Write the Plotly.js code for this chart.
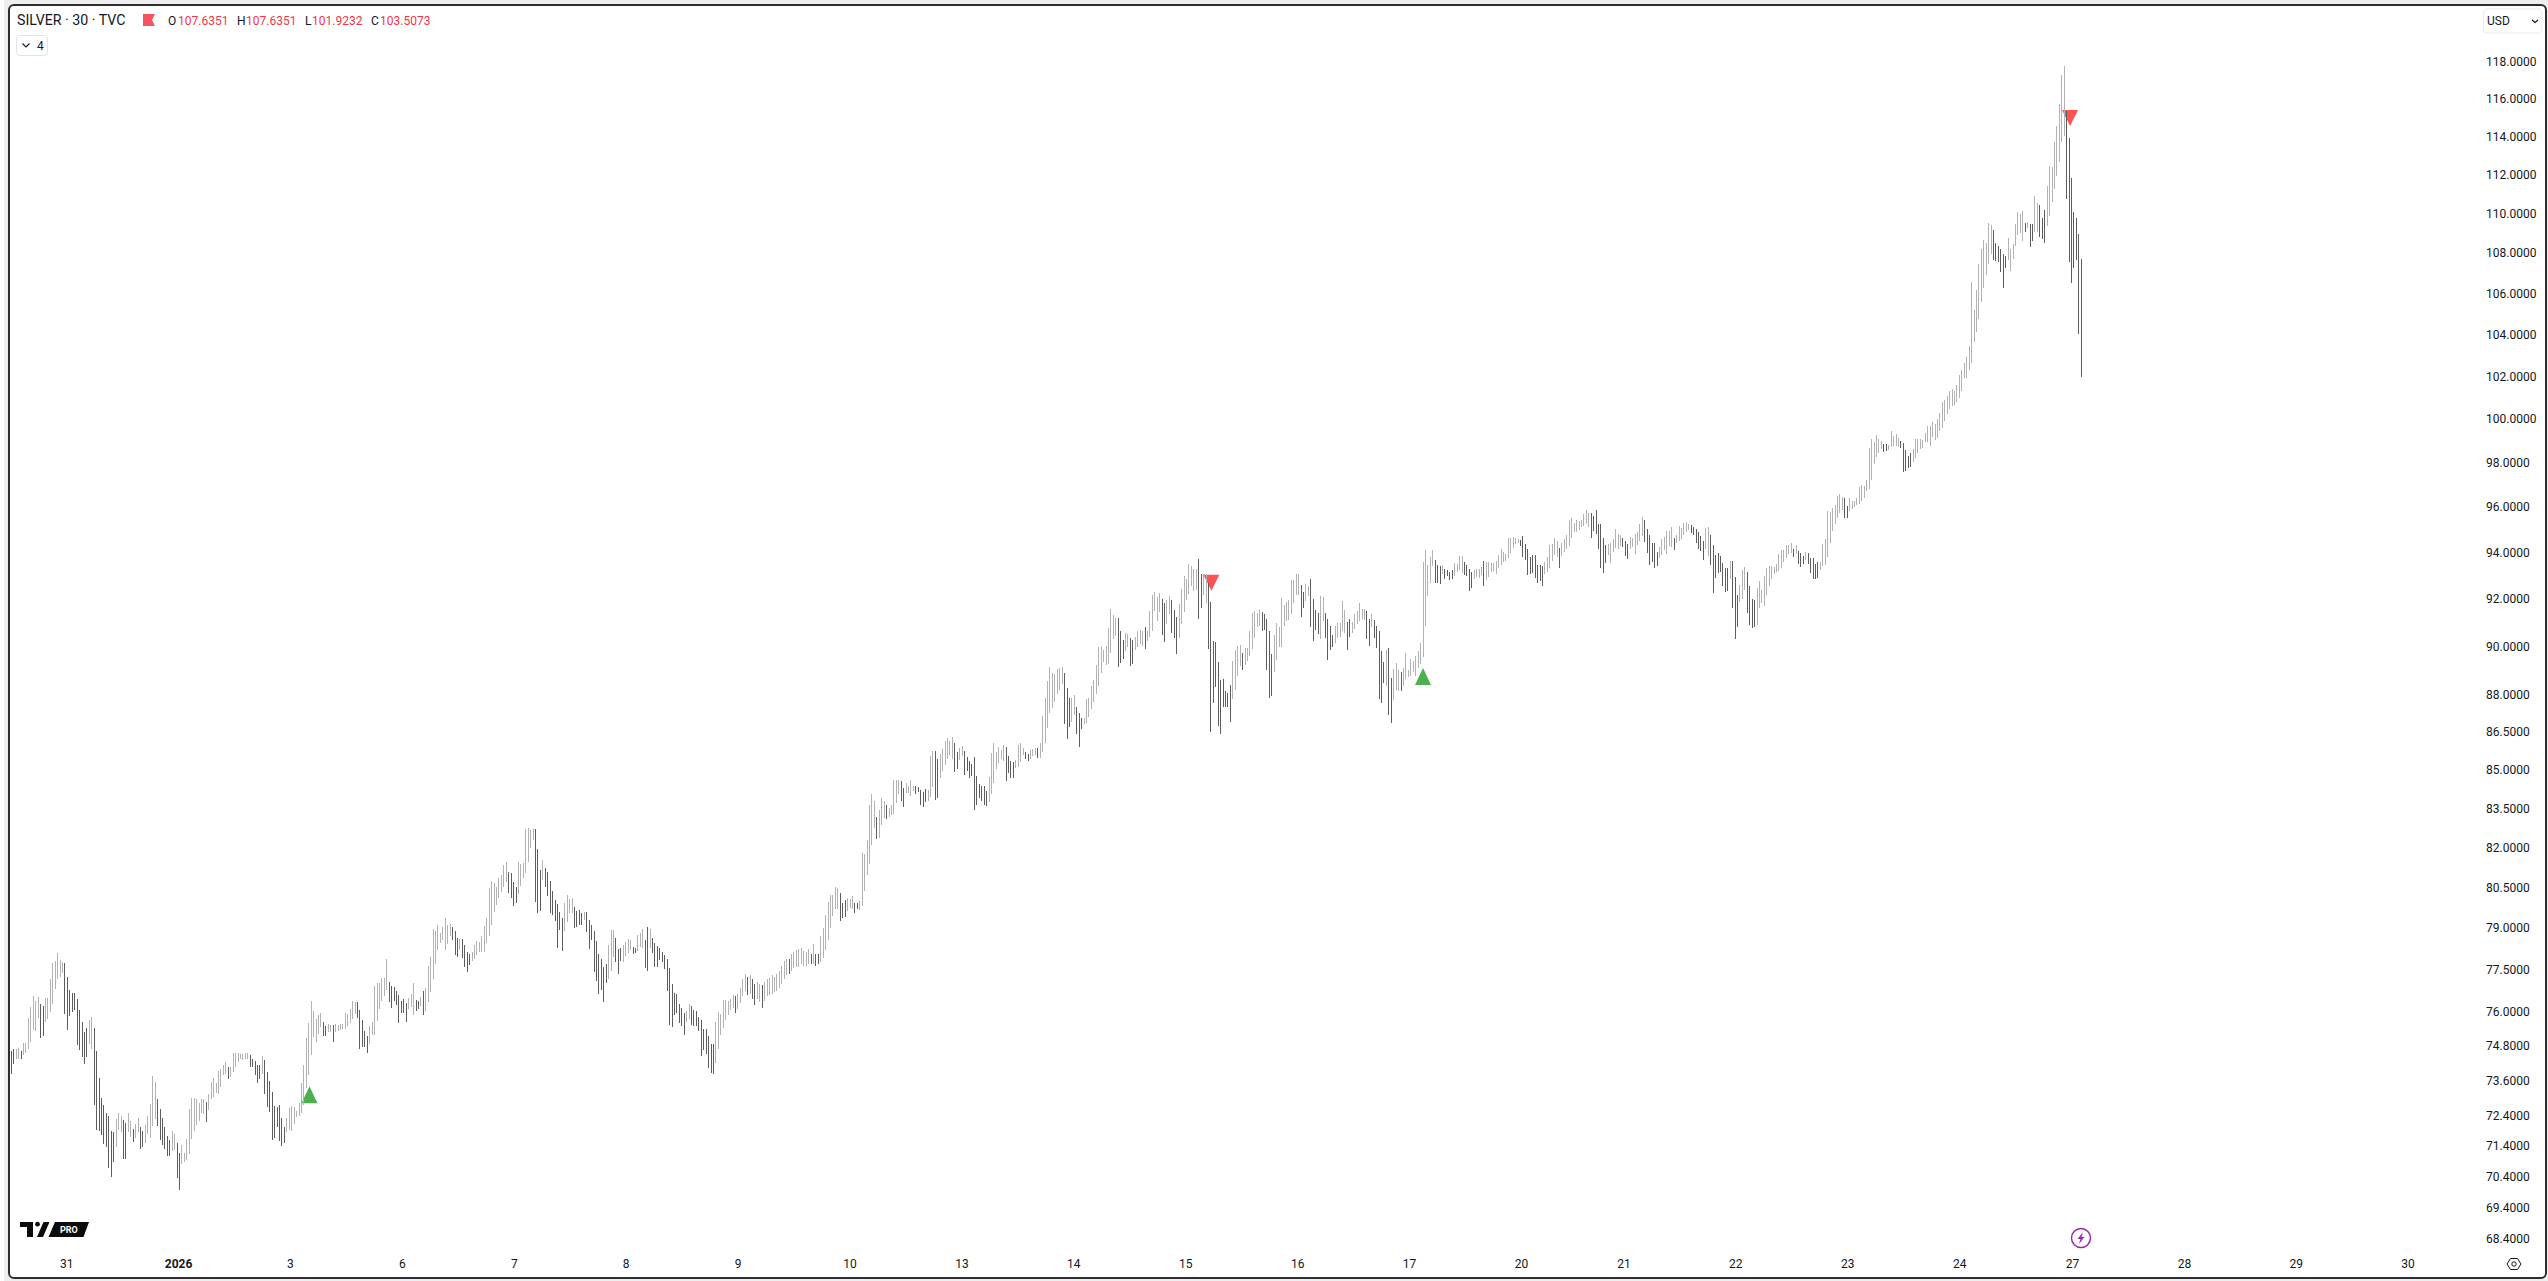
<!DOCTYPE html>
<html><head><meta charset="utf-8">
<script src="https://cdn.plot.ly/plotly-3.0.1.min.js"></script>
<style>
html,body{margin:0;padding:0;width:2548px;height:1281px;overflow:hidden;background:#fff}
#strip{position:absolute;left:4px;top:0;width:2544px;height:1281px;background:#eeeeee}
#frame{position:absolute;left:8px;top:4px;width:2535px;height:1271px;border:2.5px solid #2e2e32;border-radius:6px;background:#fff}
#chart{position:absolute;left:0;top:0;width:2548px;height:1281px}
.ohlc path{shape-rendering:crispEdges !important}
</style></head><body>
<div id="strip"></div><div id="frame"></div><div id="chart"></div>
<script>
const U=1,D=0;
// each row: high, low, rising(1)/falling(0)
const barsA=[[74.60,73.81,D],[74.65,74.15,D],[74.65,74.30,U],[74.69,74.32,U],[74.59,74.32,D],[74.86,74.45,U],[74.86,74.52,U],[75.74,74.65,U],[76.13,74.89,U],[76.52,75.31,U],[76.34,75.28,U],[76.48,75.74,U],[76.23,75.03,D],[76.16,75.10,D],[76.45,75.60,U],[76.45,75.70,U],[77.12,75.95,U],[77.69,76.23,U],[77.76,76.77,U],[78.04,77.12,U],[77.79,77.19,U],[77.72,77.33,U],[77.69,75.88,D],[77.19,75.31,D],[76.73,75.81,D],[76.62,75.95,D],[76.62,76.02,D],[76.41,74.79,D],[76.02,74.62,D],[75.60,74.38,D],[75.24,74.15,D],[75.38,74.38,D],[75.67,74.82,U],[75.77,74.65,U],[75.38,72.76,D],[74.59,71.91,D],[73.67,71.87,D],[72.99,71.74,D],[72.76,71.43,D],[72.49,71.33,D],[72.38,70.65,D],[71.87,70.35,D],[71.84,70.86,D],[72.28,71.33,U],[72.49,71.91,U],[72.38,71.84,U],[72.25,70.96,D],[72.15,70.96,D],[72.49,71.84,U],[72.21,71.67,U],[71.94,71.50,D],[72.11,71.64,U],[72.32,71.84,U],[72.01,71.26,D],[71.87,71.33,D],[72.08,71.46,U],[72.38,71.77,U],[72.79,71.64,U],[73.74,72.04,U],[73.54,72.28,U],[72.93,72.04,D],[72.62,71.57,D],[72.32,71.40,D],[72.01,71.26,D],[71.71,71.06,D],[71.57,71.03,D],[71.87,71.20,U],[71.77,71.23,U],[71.46,70.32,D],[71.16,69.94,D],[71.40,70.79,U],[71.13,70.86,U],[71.60,70.92,U],[72.62,71.10,U],[72.99,71.60,U],[72.99,71.87,U],[72.93,72.08,U],[72.82,72.20,U],[72.96,72.49,U],[72.96,72.45,U],[72.86,72.18,D],[73.10,72.59,U],[73.54,72.93,U],[73.67,73.03,U],[73.50,73.16,U],[73.91,73.13,U],[73.98,73.37,U],[74.11,73.77,U],[74.21,73.81,U],[74.04,73.64,D],[74.04,73.71,U],[74.52,73.88,U],[74.52,74.04,U],[74.52,74.21,U],[74.49,74.32,U],[74.49,74.28,U],[74.52,74.32,U],[74.52,74.32,U],[74.45,74.04,D],[74.32,74.04,D],[74.25,73.77,D],[74.11,73.50,D],[74.11,73.64,D],[74.42,73.81,U],[74.28,73.13,D],[73.88,72.69,D],[73.57,72.52,D],[73.20,71.57,D],[72.72,71.64,D],[72.69,72.01,D],[72.76,71.54,D],[72.32,71.37,D],[72.01,71.46,D],[72.32,71.84,U],[72.65,71.91,U],[72.72,71.87,U],[72.69,72.11,U],[72.55,72.35,U],[72.82,72.38,U],[73.50,72.49,U],[74.11,72.76,U],[75.03,73.33,U],[75.56,73.77,U],[76.34,74.45,U],[75.99,75.07,U],[75.70,74.89,U],[75.85,75.17,U],[75.92,75.42,U],[75.60,75.10,D],[75.46,75.10,D],[75.53,75.24,U],[75.49,75.24,U],[75.49,74.89,D],[75.53,75.24,U],[75.49,75.28,U]];
const barsB=[[75.53,75.32,U],[75.53,75.36,U],[75.91,75.36,U],[75.88,75.46,U],[76.05,75.56,U],[76.33,75.70,U],[76.29,75.88,U],[76.29,75.74,D],[76.02,74.66,D],[75.67,74.73,D],[75.29,74.73,D],[75.11,74.52,D],[75.46,74.84,U],[75.60,75.15,U],[76.86,75.15,U],[76.97,75.63,U],[76.97,76.05,U],[77.15,76.33,U],[77.15,76.50,U],[77.84,76.71,U],[77.02,76.29,D],[76.86,76.09,D],[76.82,76.33,D],[76.68,76.19,D],[76.54,75.56,D],[76.33,75.91,D],[76.40,75.91,D],[76.26,75.60,D],[76.43,76.05,U],[76.57,76.12,U],[76.97,75.84,U],[76.36,75.98,D],[76.33,76.05,D],[76.47,76.15,U],[76.68,75.84,D],[76.79,75.98,U],[77.59,76.29,U],[77.92,76.64,U],[78.94,77.11,U],[78.86,77.66,U],[79.08,78.17,U],[78.79,78.43,U],[79.01,78.53,U],[79.34,78.17,U],[79.08,78.39,U],[79.12,78.68,U],[79.01,78.53,D],[78.86,77.99,D],[78.61,77.92,D],[78.57,78.17,U],[78.57,77.88,D],[78.35,77.55,D],[78.10,77.37,D],[78.02,77.62,D],[78.10,77.77,U],[78.35,77.84,U],[78.50,77.99,U],[78.46,78.10,U],[78.68,78.10,U],[79.05,78.10,U],[79.34,78.43,U],[80.44,78.68,U],[80.70,79.08,U],[80.63,79.56,U],[80.47,79.81,U],[80.82,80.07,U],[80.93,80.29,U],[81.31,80.47,U],[81.43,80.66,U],[81.05,80.25,D],[81.01,80.07,D],[80.66,79.78,D],[80.47,79.89,D],[81.43,80.21,U],[81.35,80.51,U],[81.39,80.82,U],[82.65,81.01,U],[82.72,81.43,U],[82.61,81.96,U],[82.68,82.23,U],[82.68,79.92,D],[81.92,79.52,D],[81.12,79.59,D],[81.50,80.74,U],[81.20,80.47,D],[81.05,80.14,D],[80.70,79.52,D],[80.32,79.45,D],[80.00,79.23,D],[79.85,78.24,D],[79.56,78.90,D],[79.34,78.13,D],[79.89,78.86,U],[80.18,79.19,U],[80.03,79.52,U],[80.07,79.52,U],[79.74,78.97,D],[79.59,79.01,D],[79.63,79.08,D],[79.52,79.08,D],[79.56,79.26,U],[79.56,78.83,D],[79.26,78.21,D],[79.08,78.53,D],[78.86,77.37,D],[78.50,77.04,D],[78.02,76.57,D],[77.84,76.71,D],[77.55,76.29,D],[77.66,76.97,D],[78.35,77.11,U],[78.90,77.40,U],[78.90,77.92,U],[78.61,77.73,D],[78.21,77.30,D],[78.24,77.77,D],[78.35,77.73,U],[78.46,77.95,U],[78.57,78.06,U],[78.53,78.17,U],[78.28,78.02,D],[78.24,78.06,D],[78.72,78.13,U],[78.79,78.28,U],[78.94,78.24,U],[78.53,77.51,D],[79.01,77.40,D],[78.94,78.24,U],[78.61,78.06,D],[78.43,77.55,D],[78.32,77.55,D],[78.24,77.81,D],[78.10,77.73,D],[77.99,77.48,D],[77.84,76.68,D],[77.51,75.50,D],[76.93,75.43,D],[76.61,75.84,D],[76.57,75.91,D],[76.22,75.56,D],[76.09,75.46,D],[75.91,75.15,D],[75.98,75.60,U],[76.22,75.70,U],[76.15,75.50,D],[76.02,75.46,D],[75.98,75.46,D],[75.77,75.29,D],[75.67,74.42,D],[75.36,74.63,D],[75.36,74.49,D],[75.11,74.00,D],[74.84,73.83,D],[74.84,73.79,D],[75.60,74.17,U],[75.95,74.66,U],[75.88,75.15,U],[76.36,75.39,U],[76.36,75.67,U],[76.33,75.84,U]];
const barsC=[[76.40,76.00,U],[76.55,76.10,U],[76.50,75.90,D],[76.60,76.05,U],[76.80,76.25,U],[77.10,76.50,U],[77.30,76.70,U],[77.20,76.55,D],[77.25,76.60,U],[77.10,76.40,D],[76.95,76.20,D],[77.00,76.40,U],[76.95,76.30,U],[76.90,76.10,D],[77.00,76.35,U],[77.10,76.50,U],[77.15,76.55,U],[77.25,76.60,U],[77.20,76.65,U],[77.30,76.70,U],[77.40,76.80,U],[77.60,76.95,U],[77.75,77.10,U],[77.85,77.25,U],[77.85,77.30,D],[78.00,77.40,U],[78.10,77.50,U],[78.15,77.55,U]];
const barsD=[[78.19,77.54,U],[78.23,77.66,U],[78.12,77.60,U],[78.08,77.60,U],[78.19,77.66,U],[78.00,77.66,D],[78.37,77.66,U],[78.00,77.60,D],[78.00,77.66,D],[78.66,77.73,U],[78.96,77.86,U],[79.44,78.15,U],[79.93,78.52,U],[80.19,78.96,U],[80.19,79.40,U],[80.49,79.67,U],[80.45,79.67,U],[80.27,79.21,D],[79.89,79.32,D],[80.00,79.36,D],[80.08,79.59,U],[80.04,79.70,U],[80.15,79.67,U],[79.89,79.51,D],[79.89,79.67,D],[79.96,79.63,U],[81.77,79.77,U],[81.73,80.34,U],[82.23,80.94,U],[83.61,81.35,U],[84.00,82.04,U],[83.76,82.72,U],[83.14,82.30,D],[83.41,82.34,U],[83.85,82.83,U],[83.76,83.10,U],[83.61,83.06,D],[83.49,83.14,U],[83.61,83.22,U],[84.55,83.26,U],[84.58,83.65,U],[84.58,84.00,U],[84.51,83.76,D],[84.27,83.53,D],[84.43,84.04,U],[84.35,84.04,U],[84.55,83.96,U],[84.35,84.12,U],[84.35,84.00,D],[84.31,84.08,D],[84.19,83.61,D],[84.08,83.53,D],[84.23,83.69,D],[84.19,83.76,U],[85.53,83.92,U],[85.70,84.31,U],[85.70,83.80,D],[85.39,83.85,D],[85.58,84.64,U],[85.78,84.92,U],[86.10,85.15,U],[86.21,85.39,U],[86.10,85.55,U],[86.25,85.39,U],[86.02,84.88,D],[85.66,85.00,D],[85.82,85.35,U],[85.90,85.51,U],[85.70,84.76,D],[85.47,84.92,D],[85.31,84.64,D],[85.19,84.72,D],[85.47,83.38,D],[84.72,83.61,D],[84.40,83.85,D],[84.35,83.76,D],[84.35,83.61,D],[84.12,83.57,D],[84.68,83.69,U],[85.62,84.00,U],[86.02,84.43,U],[85.66,85.00,U],[85.86,85.23,U],[85.74,85.39,U],[85.94,85.31,U],[85.86,84.51,D],[85.51,84.84,D],[85.31,84.64,D],[85.27,84.64,D],[85.35,85.04,U],[85.94,85.08,U],[86.02,85.27,U],[85.82,85.55,U],[85.66,85.39,D],[85.58,85.31,D],[85.74,85.39,U],[85.78,85.51,U],[85.82,85.55,U],[85.82,85.43,D],[86.02,85.43,U],[87.12,85.66,U],[87.82,86.02,U],[88.52,86.61,U],[89.10,87.25,U],[88.85,87.45,U],[88.81,87.66,U],[89.02,87.99,U],[89.06,88.15,U],[89.10,88.40,U],[88.85,86.80,D],[88.23,86.17,D],[87.82,86.68,D],[87.82,86.88,U],[87.95,87.17,U],[87.49,86.37,D],[87.25,85.86,D],[87.04,86.57,D],[87.04,86.80,U],[87.78,86.84,U],[87.86,87.08,U],[88.32,87.41,U],[88.56,87.66,U],[89.18,87.99,U],[89.92,88.32,U],[90.00,88.85,U],[89.80,89.30,U],[90.00,89.18,U],[90.74,89.22,U],[91.52,89.70,U],[91.27,90.29,U],[91.14,90.42,U]];
const barsE=[[91.17,89.13,D],[90.59,89.29,D],[90.25,89.45,D],[90.54,89.78,U],[90.50,89.95,U],[90.33,89.17,D],[90.25,89.25,D],[90.37,89.82,U],[90.59,89.95,U],[90.67,90.08,U],[90.63,89.99,U],[90.76,89.86,D],[90.59,90.20,U],[91.44,90.37,U],[92.12,90.63,U],[92.25,91.44,U],[92.04,91.01,U],[92.21,91.40,U],[91.95,90.46,D],[91.78,90.16,D],[91.91,90.89,U],[92.08,91.31,U],[91.91,90.54,D],[91.48,90.33,D],[91.18,89.66,D],[91.74,90.33,U],[92.38,90.89,U],[92.97,91.40,U],[92.80,91.91,U],[93.48,92.16,U],[93.40,92.50,U],[93.27,92.29,U],[93.27,92.33,U],[93.70,91.10,D],[93.02,91.57,D],[93.02,92.12,U],[93.02,91.78,U],[92.63,89.86,D],[91.82,86.48,D],[90.20,87.62,D],[90.16,88.27,D],[89.33,86.69,D],[88.56,86.40,D],[88.60,87.46,D],[88.11,87.46,D],[88.03,87.46,D],[88.39,86.88,D],[89.37,87.78,U],[89.82,88.15,U],[89.99,88.72,U],[90.03,89.17,U],[89.70,88.97,D],[89.90,89.21,U],[89.90,89.37,U],[90.63,89.58,U],[91.35,89.86,U],[91.44,90.33,U],[91.35,90.76,U],[91.48,90.84,U],[91.40,90.63,D],[91.31,90.67,D],[91.10,88.97,D],[90.59,87.83,D],[89.66,87.91,D],[90.46,88.92,U],[90.93,89.41,U],[90.76,89.95,U],[91.99,89.95,U],[91.69,90.80,U],[91.82,91.01,U],[91.91,91.06,U],[92.76,91.31,U],[92.76,91.78,U],[93.02,92.12,U],[93.02,92.12,U],[92.55,91.18,D],[92.25,91.57,D],[92.59,91.86,U],[92.50,92.08,U],[92.80,90.76,D],[91.95,90.20,D],[91.48,90.67,D],[91.35,90.50,D],[92.08,90.29,U],[92.04,91.01,U],[91.35,90.33,D],[91.10,89.41,D],[90.80,89.82,D],[90.46,89.95,D],[90.80,90.12,U],[90.93,90.33,U],[90.93,90.37,U],[91.86,90.59,U],[91.48,90.54,U],[90.97,89.82,D],[91.10,90.37,D],[90.97,90.54,U],[91.31,90.71,U],[91.44,90.89,U],[91.78,91.01,U],[91.52,91.10,U],[91.52,91.06,U],[91.44,90.29,D],[91.10,89.99,D],[91.31,90.76,U],[91.06,90.33,D],[90.84,89.91,D],[90.59,87.78,D],[89.78,87.62,D],[89.33,88.44,D],[89.82,88.35,U],[89.91,87.17,D],[88.64,86.81,D],[89.01,87.74,U],[89.29,88.15,U],[88.97,88.11,U],[88.92,88.11,D],[89.09,88.35,U],[89.70,88.60,U],[88.97,88.68,U],[89.45,88.72,U],[89.37,88.92,U],[89.58,88.72,U],[89.78,89.09,U],[90.12,89.25,U],[93.57,89.54,U],[94.08,90.80,U],[93.44,92.08,U],[93.78,92.63,U],[94.08,93.40,U],[93.65,92.63,D],[93.44,92.63,D],[93.40,92.59,D],[93.44,93.02,U],[93.27,92.80,D],[93.19,92.93,D],[93.10,92.76,D],[93.19,92.80,D],[93.53,92.93,U],[93.48,93.10,U],[93.82,93.19,U]];
const barsF=[[93.82,93.07,U],[93.55,92.98,D],[93.42,92.94,D],[93.24,92.32,D],[93.11,92.45,D],[93.20,92.80,U],[93.24,92.89,U],[93.24,92.85,U],[93.33,92.98,U],[93.60,92.50,D],[93.55,92.76,U],[93.55,92.89,U],[93.51,93.11,U],[93.51,93.16,U],[93.60,93.02,U],[93.86,93.29,U],[94.12,93.42,U],[93.99,93.55,U],[93.90,93.60,U],[94.61,93.73,U],[94.61,93.95,U],[94.65,94.17,U],[94.61,94.34,U],[94.56,94.39,U],[94.52,94.26,D],[94.70,93.77,D],[94.34,93.64,D],[94.12,92.98,D],[93.77,93.02,D],[93.86,93.07,D],[93.86,92.85,D],[93.42,92.63,D],[93.42,92.72,D],[93.38,92.50,D],[93.55,93.02,U],[93.77,93.11,U],[94.30,93.29,U],[94.34,93.60,U],[94.61,93.86,U],[94.48,93.77,U],[94.17,93.29,D],[94.39,93.82,U],[94.56,93.99,U],[94.74,94.12,U],[95.40,94.26,U],[95.49,94.61,U],[95.27,94.87,U],[95.40,94.87,U],[95.36,94.96,U],[95.40,95.09,U],[95.66,95.14,U],[95.84,95.22,U],[95.71,95.09,U],[95.71,94.61,D],[95.58,94.92,D],[95.84,94.78,D],[95.22,94.12,D],[95.22,93.29,D],[94.61,93.07,D],[94.30,93.51,D],[94.34,93.86,U],[94.39,93.51,U],[94.56,93.99,U],[95.00,94.17,U],[94.78,94.12,U],[94.74,94.26,U],[94.61,94.21,D],[94.48,93.82,D],[94.34,93.68,D],[94.65,94.12,U],[94.61,94.21,U],[94.78,93.90,U],[94.87,94.30,U],[95.22,94.48,U],[95.53,94.70,U],[95.40,94.43,D],[95.00,93.95,D],[94.74,93.42,D],[94.39,93.55,D],[94.39,93.29,D],[93.99,93.38,D],[94.21,93.73,U],[94.56,93.86,U],[94.65,94.08,U],[94.92,93.90,U],[94.92,94.26,U],[95.09,94.21,U],[94.61,94.08,D],[94.74,94.39,U],[95.14,94.48,U],[95.05,94.56,U],[95.27,94.74,U],[95.31,94.87,U],[95.22,94.96,U],[95.18,94.83,D],[95.09,94.74,D],[95.00,94.39,D],[94.87,94.12,D],[94.70,94.04,D],[94.48,93.64,D],[95.05,94.12,U],[95.09,93.82,U],[94.74,93.42,D],[94.30,92.23,D],[93.86,92.85,D],[93.95,93.07,D],[93.82,93.11,D],[93.51,92.50,D],[93.29,92.28,D],[93.29,92.32,D],[93.60,92.80,U],[93.60,91.58,D],[92.89,90.27,D],[92.14,90.78,D],[92.58,91.84,U],[93.20,91.97,U],[93.33,92.36,U],[93.11,91.37,D]];
const barsG=[[92.51,90.86,D],[91.96,90.74,D],[91.92,90.78,D],[92.43,90.86,U],[92.72,91.58,U],[92.34,91.79,U],[92.94,91.67,U],[93.29,92.13,U],[93.37,92.51,U],[93.37,92.81,U],[93.32,93.02,U],[93.45,93.11,U],[93.89,93.15,U],[94.06,93.29,U],[94.06,93.54,U],[94.28,93.71,U],[94.28,93.89,U],[94.37,93.93,U],[94.11,93.76,D],[94.28,93.89,U],[94.02,93.45,D],[93.93,93.32,D],[93.80,93.45,D],[93.98,93.63,U],[93.93,93.45,D],[93.71,93.06,D],[93.71,92.81,D],[93.45,92.81,D],[93.54,92.85,D],[93.54,93.19,U],[94.33,93.37,U],[94.55,93.41,U],[95.80,93.76,U],[95.76,94.37,U],[95.93,94.90,U],[96.06,95.23,U],[96.46,95.50,U],[96.55,95.71,U],[96.42,95.84,U],[96.37,95.50,D],[96.02,95.46,D],[96.37,95.80,U],[96.23,95.89,U],[96.23,95.97,U],[96.37,96.06,U],[96.87,96.10,U],[96.97,96.23,U],[96.92,96.37,U],[97.19,96.69,U],[98.61,96.78,U],[99.02,97.19,U],[98.89,97.88,U],[99.21,98.20,U],[99.02,98.38,U],[98.93,98.57,U],[98.80,98.43,D],[98.80,98.47,D],[98.75,98.52,U],[99.39,98.66,U],[99.16,98.71,U],[99.25,98.71,U],[99.07,98.66,U],[98.93,98.61,D],[98.84,97.53,D],[98.52,97.57,D],[98.25,97.71,D],[98.38,97.75,D],[98.57,97.97,U],[99.02,98.15,U],[99.02,98.38,U],[99.02,98.57,U],[98.98,98.61,U],[99.30,98.89,U],[99.66,98.89,U],[99.66,98.71,U],[99.80,99.12,U],[99.75,98.98,U],[99.94,99.07,U],[100.26,99.39,U],[100.76,99.53,U],[100.85,99.89,U],[101.04,100.21,U],[101.28,100.44,U],[101.37,100.58,U],[101.28,100.62,U],[101.57,100.76,U],[102.00,100.94,U],[102.28,101.28,U],[102.57,101.90,U],[102.86,101.90,U],[103.38,102.24,U],[106.49,102.57,U],[105.15,103.57,U],[106.13,104.05,U],[107.38,104.72,U],[108.13,105.53,U],[108.59,106.23,U],[108.44,106.88,U],[109.44,107.38,U],[109.34,107.88,U],[109.09,107.58,D],[108.44,107.53,D],[108.29,107.48,D],[108.13,107.03,D],[107.88,106.23,D],[107.78,107.23,D],[108.69,107.58,U],[108.13,107.08,U],[108.39,107.63,U],[109.39,108.29,U],[110.04,108.84,U],[109.94,108.94,U],[110.09,108.54,U],[109.44,108.99,D],[109.54,109.19,U],[109.39,108.24,D],[109.39,108.54,D],[110.84,108.99,U],[110.46,108.99,U]];
const barsH=[[110.36,108.77,D],[109.74,108.66,D],[110.15,108.46,D],[111.38,109.33,U],[112.41,109.84,U],[112.36,110.56,U],[113.66,111.18,U],[114.52,111.85,U],[115.65,112.61,U],[117.26,113.66,U],[117.74,113.98,U],[115.27,110.67,D],[113.87,107.52,D],[111.79,106.46,D],[110.00,107.23,D],[109.74,107.62,D],[108.92,104.00,D],[107.63,101.92,D]];
const yTicks=[118,116,114,112,110,108,106,104,102,100,98,96,94,92,90,88,86.5,85,83.5,82,80.5,79,77.5,76,74.8,73.6,72.4,71.4,70.4,69.4,68.4];
const dayLabels=['31','<b>2026</b>','3','6','7','8','9','10','13','14','15','16','17','20','21','22','23','24','27','28','29','30'];
const dayBars=[22.7,68.6,114.5,160.4,206.3,252.2,298.1,344,389.9,435.8,481.7,527.6,573.5,619.4,661.4,707.3,753.2,799.1,845.4,891.3,937.2,983];
const upSignalBars=[122.3,579], upSignalPrices=[72.8,88.37];
const downSignalBars=[492.2,844.4], downSignalPrices=[93.0,115.35];
const legendO='107.6351',legendH='107.6351',legendL='101.9232',legendC='103.5073';

const rows=[...barsA,...barsB,...barsC,...barsD,...barsE,...barsF,...barsG,...barsH];
const idx=rows.map((_,i)=>i);
const high=rows.map(r=>r[0]),low=rows.map(r=>r[1]);
const open=rows.map(r=>r[2]?r[1]:r[0]),close=rows.map(r=>r[2]?r[0]:r[1]);

const W=2548,H=1281,L=10,R=2485,T=8,B=1255;
const s=(2081.3-11.3)/(rows.length-1);
const fx=x=>(x-L)/(R-L),fy=y=>1-(y-T)/(B-T);
const pt=(x,y)=>fx(x).toFixed(6)+','+fy(y).toFixed(6);
const poly=(a,close=true)=>'M'+a.map(p=>pt(p[0],p[1])).join('L')+(close?'Z':'');
const solid=(path,color)=>({type:'path',xref:'paper',yref:'paper',path,fillcolor:color,line:{width:0},layer:'above'});
const stroke=(path,color,w)=>({type:'path',xref:'paper',yref:'paper',path,line:{color,width:w},fillcolor:'rgba(0,0,0,0)',layer:'above'});
const circ=(cx,cy,r,o)=>Object.assign({type:'circle',xref:'paper',yref:'paper',x0:fx(cx-r),x1:fx(cx+r),y0:fy(cy+r),y1:fy(cy-r),layer:'above'},o);
const box=(x0,y0,x1,y1,r)=>'M'+pt(x0+r,y0)+'L'+pt(x1-r,y0)+'Q'+pt(x1,y0)+' '+pt(x1,y0+r)+'L'+pt(x1,y1-r)+'Q'+pt(x1,y1)+' '+pt(x1-r,y1)+'L'+pt(x0+r,y1)+'Q'+pt(x0,y1)+' '+pt(x0,y1-r)+'L'+pt(x0,y0+r)+'Q'+pt(x0,y0)+' '+pt(x0+r,y0)+'Z';

const sig=(bar,price,path,color)=>({type:'path',xref:'x',yref:'y',xsizemode:'pixel',ysizemode:'pixel',xanchor:bar,yanchor:price,path,fillcolor:color,line:{width:0},layer:'below'});
const shapes=[
 ...upSignalBars.map((b,i)=>sig(b,upSignalPrices[i],'M-8,0L8,0L0,17Z','#4caf50')),
 ...downSignalBars.map((b,i)=>sig(b,downSignalPrices[i],'M-8,0L8,0L0,-16Z','#ff5252')),
 solid(poly([[143,14],[155,14],[152,20],[155,26],[143,26]]),'#f7525f'),
 stroke(box(16.5,35.5,47.5,55.5,3),'#e0e3eb',1),
 stroke(poly([[22.5,43.5],[26,47],[29.5,43.5]],false),'#131722',1.1),
 stroke(box(2483.5,9,2542,33,4),'#e8eaf0',1),
 stroke(poly([[2532,20],[2535,22.5],[2538,20]],false),'#131722',1.2),
 solid(poly([[20,1222],[33,1222],[33,1237],[27,1237],[27,1227],[20,1227]]),'#0b0b0b'),
 circ(37.5,1224.2,2.4,{fillcolor:'#0b0b0b',line:{width:0}}),
 solid(poly([[43.5,1222],[49.5,1222],[43,1237],[37,1237]]),'#0b0b0b'),
 solid(poly([[55,1222],[89,1222],[83.5,1237],[48.5,1237]]),'#0b0b0b'),
 circ(2081,1238,9.5,{fillcolor:'rgba(0,0,0,0)',line:{color:'#9c27b0',width:1.5}}),
 solid(poly([[2083,1232],[2077.5,1239],[2080.5,1239],[2079,1244],[2084.5,1237],[2081.5,1237]]),'#9c27b0'),
 stroke(poly([[2507,1264],[2510.5,1258.5],[2517.5,1258.5],[2521,1264],[2517.5,1269.5],[2510.5,1269.5]]),'#131722',1),
 circ(2514,1264,2.2,{fillcolor:'rgba(0,0,0,0)',line:{color:'#131722',width:1}})
];
const note=(x,y,text,size,color,extra)=>Object.assign({xref:'paper',yref:'paper',x:fx(x),y:fy(y),text,showarrow:false,xanchor:'left',yanchor:'middle',borderpad:0,font:{family:'Roboto, sans-serif',size,color}},extra||{});
const dark='#131722',red='#f23645';
const annotations=[
 note(16,20,'SILVER · 30 · TVC',14.2,dark),
 note(167,20.5,'O',12,dark),note(177,20.5,legendO,12,red),
 note(236,20.5,'H',12,dark),note(245,20.5,legendH,12,red),
 note(304,20.5,'L',12,dark),note(311,20.5,legendL,12,red),
 note(370,20.5,'C',12,dark),note(379,20.5,legendC,12,red),
 note(36,45.5,'4',12,dark),
 note(2486,21,'USD',12,dark),
 note(69,1229.5,'<b>PRO</b>',9,'#ffffff',{xanchor:'center'})
];
Plotly.newPlot('chart',[{
 type:'ohlc',x:idx,open,high,low,close,tickwidth:0,hoverinfo:'skip',
 increasing:{line:{color:'#b2b2b2',width:1}},decreasing:{line:{color:'#5d5d5d',width:1}}
}],{
 width:W,height:H,showlegend:false,dragmode:false,
 paper_bgcolor:'rgba(0,0,0,0)',plot_bgcolor:'rgba(0,0,0,0)',
 margin:{l:L,r:W-R,t:T,b:H-B,pad:0},
 xaxis:{type:'linear',range:[(L-11.3)/s,(R-11.3)/s],tickmode:'array',tickvals:dayBars,ticktext:dayLabels,
  showgrid:false,zeroline:false,showline:false,ticks:'',rangeslider:{visible:false},
  tickfont:{family:'Roboto, sans-serif',size:12,color:dark},fixedrange:true},
 yaxis:{type:'log',side:'right',range:[Math.log10(67.86),Math.log10(120.93)],tickmode:'array',tickvals:yTicks,ticktext:yTicks.map(v=>v.toFixed(4)),
  showgrid:false,zeroline:false,showline:false,ticks:'',ticklabelshift:1,
  tickfont:{family:'Roboto, sans-serif',size:12,color:dark},fixedrange:true},
 shapes,annotations
},{displayModeBar:false,staticPlot:true});
</script></body></html>
